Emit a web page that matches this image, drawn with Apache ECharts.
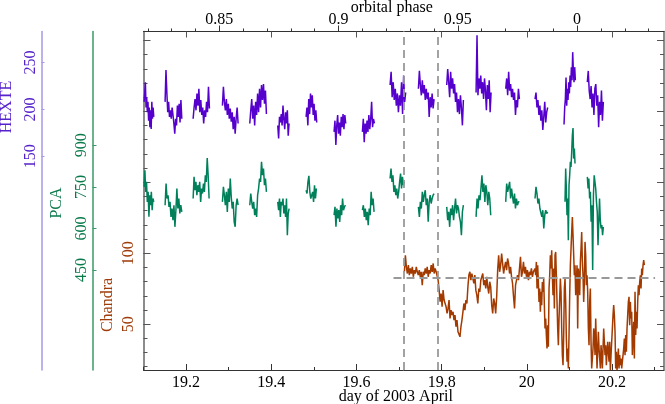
<!DOCTYPE html>
<html><head><meta charset="utf-8">
<script src="https://cdn.jsdelivr.net/npm/echarts@6/dist/echarts.min.js"></script>
<style>html,body{margin:0;padding:0;background:#fff}#c{width:665px;height:404px}</style>
</head><body><div id="c"></div>
<script>
// ---- axes / ticks ----
const dayMin = 19.1, dayMax = 20.322;
const orbitalPeriod = 5.5998, phaseZeroDay = 20.118;
const dayMajorTicks = [19.2, 19.4, 19.6, 19.8, 20.0, 20.2];
const dayMinorTicks = [19.1, 19.3, 19.5, 19.7, 19.9, 20.1, 20.3];
const phaseMajorTicks = [-0.15, -0.10, -0.05, 0];
const phaseMinorTicks = [-0.18,-0.17,-0.16,-0.15,-0.14,-0.13,-0.12,-0.11,-0.10,-0.09,-0.08,-0.07,-0.06,-0.05,-0.04,-0.03,-0.02,-0.01,0,0.01,0.02,0.03];
const hexteRange = [-77.7, 283];
const hexteTicks = [150, 200, 250];
const pcaRange = [90, 1310];
const pcaTicks = [450, 600, 750, 900];
const chandraRange = [17.7, 256.3];
const chandraMajorTicks = [50, 100, 150, 200, 250];
const chandraLabels = [50, 100];
const chandraMinorTicks = [20,30,40,50,60,70,80,90,100,110,120,130,140,150,160,170,180,190,200,210,220,230,240,250];
const markDays = [19.7125, 19.7905];
const chandraMeanLevel = 82.7;
const chandraMeanSpan = [19.687, 20.301];

// ---- HEXTE (per pointing segment) ----
const hexteStart = [19.1014,19.1507,19.2165,19.2853,19.3495,19.4152,19.4817,19.5474,19.6139,19.6789,19.7454,19.8119,19.8808,19.9504,20.0192,20.0873,20.1420];
const hexteEnd   = [19.1241,19.1899,19.2548,19.3221,19.3886,19.4418,19.5067,19.5748,19.6421,19.7156,19.7822,19.8510,19.9160,19.9825,20.0489,20.1139,20.1796];
const hexteVals = [
 [208,218,229,202,213,197,208,188,202,181,199,179,208,190,202,192],
 [208,242,218,197,208,192,199,190,202,194,185,174,190,183,204,192,206,186,210,190],
 [190,202,211,199,217,204,222,197,210,194,202,185,199,192,208,197,224,201],
 [204,224,208,199,211,194,206,190,201,187,197,179,192,174,190,202,185],
 [185,199,211,190,204,183,208,194,217,197,222,202,226,210,227,206,220,195],
 [183,169,192,186,195,183,204,190,179,197,185,199,172,185],
 [192,202,183,211,195,217,202,215,194,206,188,199,186],
 [176,188,162,183,194,174,186,172,192,181,195,179,194,185],
 [176,190,165,185,174,188,176,194,179,190,208,181,190,185],
 [226,240,213,229,210,222,204,217,197,215,204,229,195,236,208,218],
 [222,241,226,215,231,217,226,210,222,211,218,192,213,202,217,201,211],
 [226,243,229,213,240,222,233,217,227,208,218,197,211,195,215,202,183,210],
 [218,279,215,233,222,236,217,229,211,233,220,199,226,211,231,197,218],
 [222,233,215,240,220,227,213,222,210,218,194,210,202,222,211],
 [211,218,202,210,194,204,188,199,178,192,208,186,197,202],
 [184,202,211,234,204,222,210,229,217,236,224,245,231,261,241,229,245,231],
 [229,241,220,211,225,202,217,194,222,227,204,215,181,208,194,220,188,208]
];

// ---- PCA ----
const pcaStart = [19.1014,19.1507,19.2165,19.2853,19.3495,19.4152,19.4817,19.5474,19.6139,19.6789,19.7454,19.8119,19.8808,19.9504,20.0192,20.0896,20.1420];
const pcaEnd   = [19.1241,19.1899,19.2540,19.3221,19.3886,19.4418,19.5059,19.5740,19.6413,19.7125,19.7822,19.8510,19.9152,19.9825,20.0489,20.1131,20.1796];
const pcaVals = [
 [750,810,732,768,696,732,642,720,684,732,666,708,696],
 [684,762,708,720,678,696,642,672,630,684,606,666,744,672,708,654,684,660],
 [708,786,738,768,720,756,732,768,696,744,726,762,732,792,768,854,792,708],
 [696,750,720,684,732,660,744,696,780,714,672,696,624,606,684,708,684],
 [684,726,696,672,696,648,672,642,720,744,780,768,840,792,816,756,780,732],
 [696,666,708,642,696,684,708,654,684,642,708,576,654,672],
 [738,726,768,790,732,708,720,732,696,756,708,744],
 [648,678,606,672,636,666,624,684,648,708,666,678,684],
 [666,684,642,672,630,660,612,672,648,732,684,708,660],
 [780,816,768,792,732,756,720,744,708,732,768,798,744,786,756,768],
 [678,642,696,672,732,696,720,738,684,708,624,696,720,690,708,720,726],
 [678,630,660,606,672,648,684,630,672,708,654,684,672,642,624,576,660,684],
 [642,708,672,720,702,744,792,732,762,696,756,732,684,732,708,648],
 [696,762,732,750,768,708,744,714,690,726,672,708,684,696,696],
 [708,750,726,690,708,672,678,642,666,600,648,666,654,660],
 [696,816,744,648,708,558,756,792,840,822,876,936,962,852,888,834],
 [786,744,780,708,732,624,684,450,720,792,798,744,696,660,540,624,708,630,600,612,576,606]
];

// ---- Chandra (continuous) ----
const chandraStart = [19.7125, 20.0192];
const chandraEnd   = [20.0177, 20.2759];
const chandraVals = [
 [86.9,98.6,90.4,85.7,91.6,84.6,89.3,85.7,90.4,83.4,88.1,85.7,90.4,86.9,84.6,88.1,83.4,86.9,77.5,86.9,84.6,89.3,85.7,90.4,83.4,88.1,85.7,91.6,86.9,92.8,85.7,89.3,86.9,86.9,81.0,74.0,65.8,71.6,62.3,74.0,67.0,68.1,62.3,57.6,61.1,67.0,54.0,59.9,56.4,58.7,52.9,56.4,48.2,52.9,44.7,45.8,41.1,48.2,52.9,58.7,64.6,59.9,67.0,64.6,76.3,84.6,86.9,81.0,85.7,86.9,78.7,84.6,74.0,70.5,64.6,75.2,72.8,81.0,83.4,85.7,77.5,81.0,75.2,83.4,76.3,71.6,79.9,76.3,63.4,57.6,68.1,64.6,57.6,69.3,88.1,98.6,86.9,91.6,99.8,92.8,85.7,90.4,93.9,88.1,96.3,92.8,85.7,90.4,83.4,78.7,69.3,61.1,77.5,81.0,84.6,81.0,89.3,97.5,83.4,86.9,93.9,85.7,90.4,83.4,88.1,81.0,86.9,84.6,89.3,83.4,86.9,85.7],
 [89.2,84.5,93.9,75.1,91.6,79.8,65.7,75.1,58.7,72.8,63.4,79.8,72.8,82.2,63.4,47.0,54.0,42.3,32.9,49.3,34.1,75.1,84.5,98.6,89.2,102.1,84.5,70.4,89.2,61.0,98.6,100.9,84.5,65.7,47.0,35.2,54.0,68.1,82.2,72.8,47.0,28.2,21.1,42.3,75.1,82.2,65.7,39.9,23.5,32.9,18.8,42.3,70.4,91.6,103.3,115.0,125.6,112.7,98.6,84.5,91.6,70.4,79.8,91.6,47.0,89.2,84.5,70.4,93.9,103.3,115.0,93.9,84.5,65.7,79.8,108.0,98.6,77.5,84.5,72.8,47.0,35.2,65.7,75.1,37.6,18.8,17.6,32.9,47.0,42.3,28.2,54.0,37.6,18.8,30.5,44.6,32.9,25.8,18.8,35.2,28.2,18.8,32.9,47.0,37.6,28.2,35.2,21.1,30.5,37.6,30.5,23.5,37.6,17.6,28.2,37.6,47.0,56.4,63.4,56.4,44.6,18.8,30.5,17.6,23.5,32.9,18.8,28.2,21.1,25.8,18.8,23.5,28.2,32.9,39.9,28.2,42.3,30.5,47.0,56.4,65.7,69.3,49.3,65.7,54.0,58.7,28.2,42.3,51.7,25.8,72.8,42.3,58.7,47.0,65.7,77.5,70.4,79.8,84.5,75.1,89.2,84.5,91.6,95.1,91.6]
];

// ---- styling ----
const FONT = '"Liberation Serif", "Times New Roman", serif';
const cHexte = '#5500cc', cPca = '#00805a', cChandra = '#a33a00';

function build(starts, ends, vals, gaps) {
  const out = [];
  for (let i = 0; i < starts.length; i++) {
    const v = vals[i], n = v.length;
    for (let j = 0; j < n; j++) out.push([starts[i] + (ends[i] - starts[i]) * j / (n - 1), v[j]]);
    if (gaps) out.push([ends[i], '-']);
  }
  return out;
}
const phaseMin = (dayMin - phaseZeroDay) / orbitalPeriod;
const phaseMax = (dayMax - phaseZeroDay) / orbitalPeriod;
const txt = (color) => ({ color: color, fontFamily: FONT, fontSize: 16 });
const noSplit = { show: false };

const chart = echarts.init(document.getElementById('c'), null, { renderer: 'canvas' });
chart.setOption({
  animation: false,
  backgroundColor: '#ffffff',
  grid: { left: 143.5, right: 1, top: 31.5, bottom: 34, containLabel: false, outerBoundsMode: 'none' },
  xAxis: [
    { type: 'value', position: 'bottom', min: dayMin, max: dayMax,
      name: 'day of 2003 April', nameLocation: 'middle', nameGap: 19, nameMoveOverlap: false,
      nameTextStyle: Object.assign(txt('#000'), { padding: [0, 16, 0, 0] }),
      axisLine: { onZero: false, lineStyle: { color: '#333', width: 1 } },
      axisTick: { inside: true, length: 6, customValues: dayMajorTicks, lineStyle: { color: '#333' } },
      axisLabel: Object.assign(txt('#000'), { margin: 5, customValues: dayMajorTicks, formatter: v => String(Math.round(v * 10) / 10) }),
      splitLine: noSplit },
    { type: 'value', position: 'bottom', min: dayMin, max: dayMax,
      axisLine: { show: false, onZero: false },
      axisTick: { inside: true, length: 3, customValues: dayMinorTicks, lineStyle: { color: '#333' } },
      axisLabel: { show: false }, splitLine: noSplit },
    { type: 'value', position: 'top', min: dayMin, max: dayMax,
      axisLine: { onZero: false, lineStyle: { color: '#333', width: 1 } },
      axisTick: { inside: true, length: 6, customValues: dayMajorTicks, lineStyle: { color: '#555' } },
      axisLabel: { show: false }, splitLine: noSplit },
    { type: 'value', position: 'top', min: phaseMin, max: phaseMax,
      name: 'orbital phase', nameLocation: 'middle', nameGap: 16, nameMoveOverlap: false,
      nameTextStyle: Object.assign(txt('#000'), { padding: [0, 24, 0, 0] }),
      axisLine: { show: false, onZero: false },
      axisTick: { inside: false, length: 6, customValues: phaseMajorTicks, lineStyle: { color: '#333' } },
      axisLabel: Object.assign(txt('#000'), { margin: 4, customValues: phaseMajorTicks,
        formatter: v => { const p = ((v % 1) + 1) % 1; return String(Math.round(p * 100) / 100 % 1); } }),
      splitLine: noSplit },
    { type: 'value', position: 'top', min: phaseMin, max: phaseMax,
      axisLine: { show: false, onZero: false },
      axisTick: { inside: false, length: 3, customValues: phaseMinorTicks, lineStyle: { color: '#333' } },
      axisLabel: { show: false }, splitLine: noSplit }
  ],
  yAxis: [
    { type: 'value', position: 'left', offset: 102, min: hexteRange[0], max: hexteRange[1],
      axisLine: { show: true, onZero: false, lineStyle: { color: '#a898e8', width: 1.5 } },
      axisTick: { show: true, inside: true, length: 3, customValues: hexteTicks, lineStyle: { color: '#a898e8' } },
      axisLabel: Object.assign(txt('#5522cc'), { rotate: 90, margin: 3, customValues: hexteTicks }),
      splitLine: noSplit },
    { type: 'value', position: 'left', offset: 51, min: pcaRange[0], max: pcaRange[1],
      axisLine: { show: true, onZero: false, lineStyle: { color: '#3a9a6a', width: 1.5 } },
      axisTick: { show: true, inside: true, length: 4, customValues: pcaTicks, lineStyle: { color: '#3a9a6a' } },
      axisLabel: Object.assign(txt('#0b7a4b'), { rotate: 90, margin: 3, customValues: pcaTicks }),
      splitLine: noSplit },
    { type: 'value', position: 'left', offset: 0, min: chandraRange[0], max: chandraRange[1],
      axisLine: { show: true, onZero: false, lineStyle: { color: '#666', width: 1.5 } },
      axisTick: { show: true, inside: true, length: 7, customValues: chandraMajorTicks, lineStyle: { color: '#555' } },
      axisLabel: Object.assign(txt('#a03c0a'), { rotate: 90, margin: 7, customValues: chandraLabels }),
      splitLine: noSplit },
    { type: 'value', position: 'left', offset: 0, min: chandraRange[0], max: chandraRange[1],
      axisLine: { show: false, onZero: false },
      axisTick: { show: true, inside: true, length: 4, customValues: chandraMinorTicks, lineStyle: { color: '#555' } },
      axisLabel: { show: false }, splitLine: noSplit },
    { type: 'value', position: 'right', offset: 0, min: chandraRange[0], max: chandraRange[1],
      axisLine: { show: true, onZero: false, lineStyle: { color: '#666', width: 1.5 } },
      axisTick: { show: true, inside: true, length: 7, customValues: chandraMajorTicks, lineStyle: { color: '#555' } },
      axisLabel: { show: false }, splitLine: noSplit },
    { type: 'value', position: 'right', offset: 0, min: chandraRange[0], max: chandraRange[1],
      axisLine: { show: false, onZero: false },
      axisTick: { show: true, inside: true, length: 4, customValues: chandraMinorTicks, lineStyle: { color: '#555' } },
      axisLabel: { show: false }, splitLine: noSplit }
  ],
  graphic: [
    { type: 'text', x: 7, y: 107, rotation: Math.PI / 2, style: { text: 'HEXTE', fill: '#5522cc', font: '16px ' + FONT, align: 'center', verticalAlign: 'middle' } },
    { type: 'text', x: 57, y: 203, rotation: Math.PI / 2, style: { text: 'PCA', fill: '#0b7a4b', font: '16px ' + FONT, align: 'center', verticalAlign: 'middle' } },
    { type: 'text', x: 107.5, y: 305, rotation: Math.PI / 2, style: { text: 'Chandra', fill: '#a03c0a', font: '16px ' + FONT, align: 'center', verticalAlign: 'middle' } }
  ],
  series: [
    { type: 'line', name: 'HEXTE', xAxisIndex: 0, yAxisIndex: 0, data: build(hexteStart, hexteEnd, hexteVals, true),
      showSymbol: false, symbol: 'none', connectNulls: false, silent: true,
      lineStyle: { color: cHexte, width: 1.5 }, itemStyle: { color: cHexte } },
    { type: 'line', name: 'PCA', xAxisIndex: 0, yAxisIndex: 1, data: build(pcaStart, pcaEnd, pcaVals, true),
      showSymbol: false, symbol: 'none', connectNulls: false, silent: true,
      lineStyle: { color: cPca, width: 1.5 }, itemStyle: { color: cPca } },
    { type: 'line', name: 'Chandra', xAxisIndex: 0, yAxisIndex: 2, data: build(chandraStart, chandraEnd, chandraVals, false),
      showSymbol: false, symbol: 'none', silent: true,
      lineStyle: { color: cChandra, width: 1.5 }, itemStyle: { color: cChandra },
      markLine: { silent: true, symbol: 'none', label: { show: false },
        lineStyle: { color: '#999', width: 1.8, type: [8, 5] },
        data: [
          { xAxis: markDays[0] }, { xAxis: markDays[1] },
          [ { coord: [chandraMeanSpan[0], chandraMeanLevel] }, { coord: [chandraMeanSpan[1], chandraMeanLevel] } ]
        ] } }
  ]
});
</script></body></html>
